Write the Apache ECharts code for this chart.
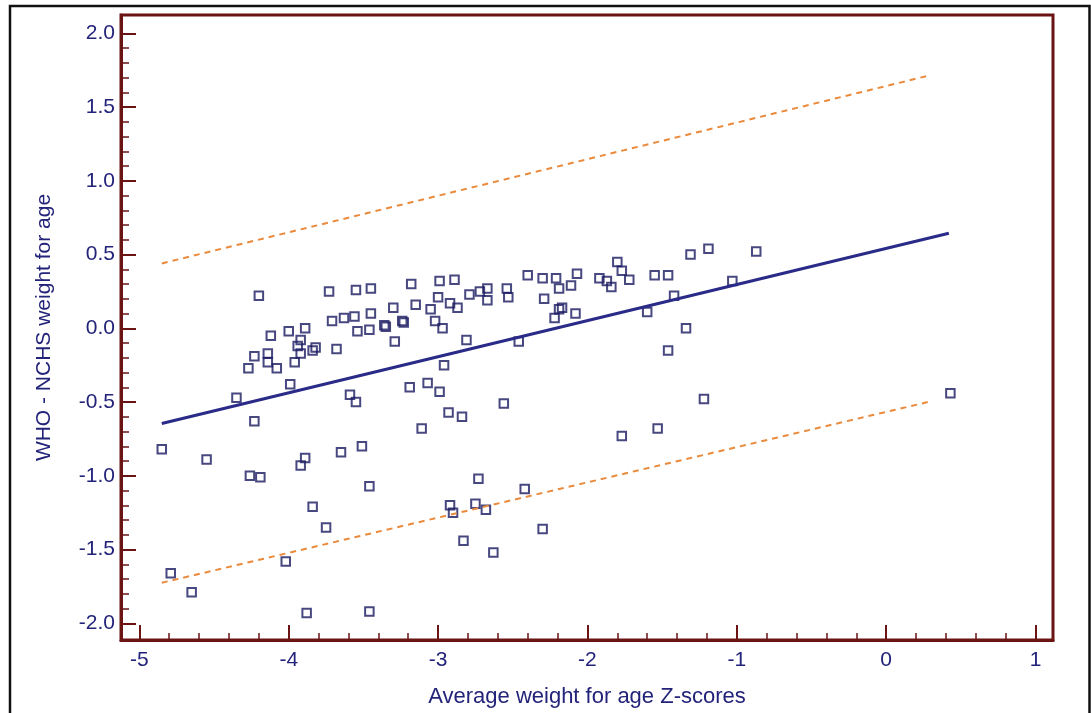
<!DOCTYPE html>
<html>
<head>
<meta charset="utf-8">
<script src="https://cdn.jsdelivr.net/npm/echarts@6/dist/echarts.min.js"></script>
<style>
  html, body { margin: 0; padding: 0; background: #fff; }
  #chart { width: 1091px; height: 713px; }
</style>
</head>
<body>
<div id="chart"></div>
<script>
// Average weight-for-age Z-score (x) and WHO - NCHS difference (y), one entry per child
const zAverage = [
  -4.20, -3.73, -3.55, -3.45, -3.18, -2.99, -2.89, -3.00, -2.92, -3.30,
  -3.15, -3.05, -3.02, -2.97, -3.24, -3.23, -3.36, -3.35, -3.45, -3.56,
  -3.63, -3.71, -3.46, -3.54, -3.29, -2.96, -3.89, -4.00, -4.12, -3.92,
  -3.94, -3.92, -3.96, -3.84, -3.82, -3.68, -4.23, -4.14, -4.14, -4.08,
  -4.27, -3.99, -4.35, -4.23, -3.59, -3.55, -3.19, -3.07, -2.99, -2.93,
  -3.11, -4.85, -4.55, -3.89, -3.92, -3.65, -3.51, -2.84,
  -2.87, -2.79, -2.72, -2.67, -2.67, -2.54, -2.53, -2.40, -2.30, -2.21,
  -2.19, -2.11, -2.07, -2.29, -2.17, -2.19, -2.22, -2.08, -1.92, -1.87,
  -1.84, -1.80, -1.77, -1.72, -1.55, -1.46, -1.42, -1.31, -1.19, -1.03,
  -1.60, -1.34, -1.46, -2.81, -2.46, -2.56, -1.22, -1.77, -1.53, -0.87,
   0.43,
  -4.26, -4.19, -3.46, -3.84, -3.75, -4.02, -4.79, -4.65, -3.88, -3.46,
  -2.73, -2.92, -2.90, -2.75, -2.83, -2.68, -2.42, -2.63, -2.30
];
const whoMinusNchs = [
   0.22,  0.25,  0.26,  0.27,  0.30,  0.32,  0.33,  0.21,  0.17,  0.14,
   0.16,  0.13,  0.05,  0.00,  0.05,  0.04,  0.02,  0.01,  0.10,  0.08,
   0.07,  0.05, -0.01, -0.02, -0.09, -0.25,  0.00, -0.02, -0.05, -0.08,
  -0.12, -0.17, -0.23, -0.15, -0.13, -0.14, -0.19, -0.17, -0.23, -0.27,
  -0.27, -0.38, -0.47, -0.63, -0.45, -0.50, -0.40, -0.37, -0.43, -0.57,
  -0.68, -0.82, -0.89, -0.88, -0.93, -0.84, -0.80, -0.60,
   0.14,  0.23,  0.25,  0.27,  0.19,  0.27,  0.21,  0.36,  0.34,  0.34,
   0.27,  0.29,  0.37,  0.20,  0.14,  0.13,  0.07,  0.10,  0.34,  0.32,
   0.28,  0.45,  0.39,  0.33,  0.36,  0.36,  0.22,  0.50,  0.54,  0.32,
   0.11,  0.00, -0.15, -0.08, -0.09, -0.51, -0.48, -0.73, -0.68,  0.52,
  -0.44,
  -1.00, -1.01, -1.07, -1.21, -1.35, -1.58, -1.66, -1.79, -1.93, -1.92,
  -1.02, -1.20, -1.25, -1.19, -1.44, -1.23, -1.09, -1.52, -1.36
];

// Regression line and the upper / lower limits (endpoints)
const regressionX = [-4.85, 0.42];
const regressionY = [-0.645, 0.645];
const upperX = [-4.85, 0.30];
const upperY = [0.44, 1.717];
const lowerX = [-4.85, 0.30];
const lowerY = [-1.725, -0.495];

// Axis ticks
const xTicks = [-5, -4, -3, -2, -1, 0, 1];
const yTicks = [-2, -1.5, -1, -0.5, 0, 0.5, 1, 1.5, 2];
const xRange = [-5.123, 1.117];
const yRange = [-2.113, 2.124];

const frameColor = '#6a1414';
const textColor = '#23237a';
const markColor = '#1a1a62';
const lineColor = '#2a2a88';
const limitColor = '#e98a3c';
const fontFamily = '"Liberation Sans", Arial, sans-serif';

// minor ticks: 0.2 steps on x, 0.1 steps on y
const xMinor = [];
for (let i = 0; i < xTicks.length - 1; i++) {
  for (let k = 1; k < 5; k++) xMinor.push(+(xTicks[i] + k * 0.2).toFixed(2));
}
const yMinor = [];
for (let i = 0; i < yTicks.length - 1; i++) {
  for (let k = 1; k < 5; k++) yMinor.push(+(yTicks[i] + k * 0.1).toFixed(2));
}

const points = zAverage.map((x, i) => [x, whoMinusNchs[i]]);
const pairs = (xs, ys) => xs.map((x, i) => [x, ys[i]]);

const chart = echarts.init(document.getElementById('chart'), null, { renderer: 'canvas' });

const majorTick = (vals) => ({
  show: true, inside: true, length: 15, customValues: vals,
  lineStyle: { color: frameColor, width: 2 }
});
const minorTick = (vals, len) => ({
  show: true, inside: true, length: len, customValues: vals,
  lineStyle: { color: frameColor, width: 1.5 }
});

chart.setOption({
  animation: false,
  backgroundColor: '#fff',
  textStyle: { fontFamily },
  grid: {
    left: 121, right: 38, top: 15, bottom: 73,
    show: true, borderColor: frameColor, borderWidth: 3, backgroundColor: '#fff'
  },
  graphic: [{
    type: 'rect', z: 100, silent: true,
    shape: { x: 10, y: 6, width: 1079.5, height: 730 },
    style: { fill: 'none', stroke: '#111', lineWidth: 2.5 }
  }],
  xAxis: [{
    type: 'value', min: xRange[0], max: xRange[1], position: 'bottom',
    name: 'Average weight for age Z-scores', nameLocation: 'middle', nameGap: 46,
    nameTextStyle: { color: textColor, fontSize: 22, fontFamily },
    axisLine: { show: true, onZero: false, lineStyle: { color: frameColor, width: 3 } },
    axisTick: majorTick(xTicks),
    axisLabel: { customValues: xTicks, color: textColor, fontSize: 21, margin: 10, fontFamily,
                 formatter: v => String(v) },
    splitLine: { show: false }
  }, {
    type: 'value', min: xRange[0], max: xRange[1], position: 'bottom',
    axisLine: { show: false, onZero: false },
    axisTick: minorTick(xMinor, 7),
    axisLabel: { show: false },
    splitLine: { show: false }
  }],
  yAxis: [{
    type: 'value', min: yRange[0], max: yRange[1], position: 'left',
    name: 'WHO - NCHS weight for age', nameLocation: 'middle', nameGap: 66,
    nameTextStyle: { color: textColor, fontSize: 21, fontFamily },
    axisLine: { show: true, onZero: false, lineStyle: { color: frameColor, width: 3 } },
    axisTick: majorTick(yTicks),
    axisLabel: { customValues: yTicks, color: textColor, fontSize: 21, margin: 6, fontFamily,
                 formatter: v => v.toFixed(1) },
    splitLine: { show: false }
  }, {
    type: 'value', min: yRange[0], max: yRange[1], position: 'left',
    axisLine: { show: false, onZero: false },
    axisTick: minorTick(yMinor, 8),
    axisLabel: { show: false },
    splitLine: { show: false }
  }],
  series: [
    {
      type: 'line', data: pairs(upperX, upperY), symbol: 'none', silent: true,
      lineStyle: { color: limitColor, width: 2, type: [6, 5] }
    },
    {
      type: 'line', data: pairs(lowerX, lowerY), symbol: 'none', silent: true,
      lineStyle: { color: limitColor, width: 2, type: [6, 5] }
    },
    {
      type: 'line', data: pairs(regressionX, regressionY), symbol: 'none', silent: true,
      lineStyle: { color: lineColor, width: 3 }
    },
    {
      type: 'scatter', data: points, symbol: 'rect', symbolSize: 8.5,
      itemStyle: { color: 'rgba(255,255,255,0)', borderColor: markColor, borderWidth: 2 }
    }
  ]
});
</script>
</body>
</html>
